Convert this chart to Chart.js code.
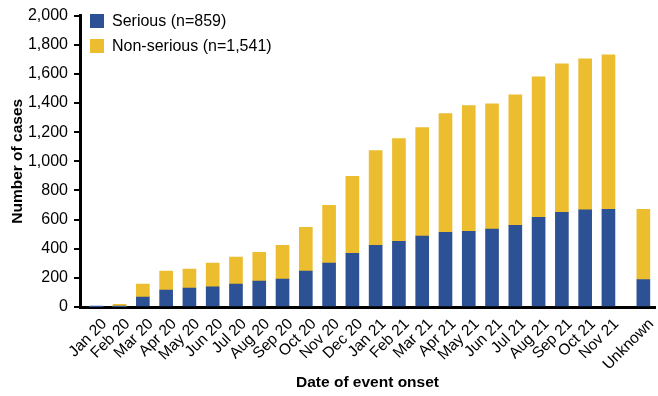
<!DOCTYPE html>
<html>
<head>
<meta charset="utf-8">
<script src="https://cdn.jsdelivr.net/npm/chart.js@4/dist/chart.umd.min.js"></script>
<style>
  html, body { margin: 0; padding: 0; background: #fff; }
  #wrap { width: 658px; height: 396px; }
</style>
</head>
<body>
<div id="wrap"><canvas id="chart" width="658" height="396"></canvas></div>
<script>
// Cumulative case counts by month of event onset
const months = ['Jan 20', 'Feb 20', 'Mar 20', 'Apr 20', 'May 20', 'Jun 20', 'Jul 20', 'Aug 20',
  'Sep 20', 'Oct 20', 'Nov 20', 'Dec 20', 'Jan 21', 'Feb 21', 'Mar 21', 'Apr 21', 'May 21',
  'Jun 21', 'Jul 21', 'Aug 21', 'Sep 21', 'Oct 21', 'Nov 21', 'Unknown'];
const serious = [2, 3, 68, 116, 130, 139, 157, 178, 192, 246, 301, 369, 424, 451, 486, 513,
  520, 534, 561, 616, 650, 667, 670, 189];
const nonSerious = [3, 15, 89, 130, 130, 162, 185, 198, 232, 301, 397, 527, 650, 705, 745, 814,
  862, 861, 896, 964, 1019, 1036, 1061, 481];
const seriesNames = ['Serious (n=859)', 'Non-serious (n=1,541)'];
const yTicks = { min: 0, max: 2000, step: 200 };

const BLUE = '#2d5195';
const GOLD = '#ebbd2f';
const FONT = "'Liberation Sans', Arial, sans-serif";

// Category axis that leaves extra room before the first month and
// a wider gap before the trailing "Unknown" category.
class GappedCategoryScale extends Chart.CategoryScale {
  static id = 'gappedCategory';
  static defaults = Chart.CategoryScale.defaults;
  buildTicks() {
    const ticks = super.buildTicks();
    const lead = this.options.leadSpace || 0;
    const gap = this.options.gapSize || 0;
    this._startValue -= lead;
    this._valueRange += lead + gap;
    return ticks;
  }
  getPixelForValue(value) {
    if (typeof value !== 'number') value = this.parse(value);
    if (value === null) return NaN;
    const gi = this.options.gapIndex;
    const v = (gi != null && value >= gi) ? value + (this.options.gapSize || 0) : value;
    return this.getPixelForDecimal((v - this._startValue) / this._valueRange);
  }
}
Chart.register(GappedCategoryScale);

// Legend drawn inside the plot area, one entry per row
const plotLegend = {
  id: 'plotLegend',
  afterDraw(chart, args, opts) {
    const ctx = chart.ctx;
    ctx.save();
    ctx.font = opts.fontSize + 'px ' + FONT;
    ctx.textBaseline = 'middle';
    ctx.textAlign = 'left';
    chart.data.datasets.forEach((ds, i) => {
      const y = opts.top + i * opts.rowGap;
      ctx.fillStyle = ds.backgroundColor;
      ctx.fillRect(opts.left, y, opts.box, opts.box);
      ctx.fillStyle = '#000';
      ctx.fillText(ds.label, opts.left + opts.box + opts.textGap, y + opts.box / 2 + 0.5);
    });
    ctx.restore();
  }
};

new Chart(document.getElementById('chart'), {
  type: 'bar',
  data: {
    labels: months,
    datasets: [
      { label: seriesNames[0], data: serious, backgroundColor: BLUE, barThickness: 13 },
      { label: seriesNames[1], data: nonSerious, backgroundColor: GOLD, barThickness: 13 }
    ]
  },
  options: {
    responsive: false,
    animation: false,
    devicePixelRatio: 1,
    layout: { padding: { top: 14.7, right: 3, bottom: 0, left: 0 } },
    plugins: {
      legend: { display: false },
      tooltip: { enabled: false },
      plotLegend: { left: 90, top: 14, box: 14, rowGap: 25, textGap: 8, fontSize: 16 }
    },
    scales: {
      x: {
        type: 'gappedCategory',
        stacked: true,
        offset: true,
        leadSpace: 0.2,
        gapIndex: months.length - 1,
        gapSize: 0.5,
        grid: { display: false },
        border: { display: true, color: '#000', width: 3 },
        ticks: {
          autoSkip: false,
          minRotation: 45,
          maxRotation: 45,
          padding: 0,
          labelOffset: 8,
          color: '#000',
          font: { family: FONT, size: 15.5 }
        },
        title: {
          display: true,
          text: 'Date of event onset',
          color: '#000',
          padding: { top: 0, bottom: 4 },
          font: { family: FONT, size: 15.5, weight: 'bold', lineHeight: 1.2 }
        },
        afterFit(scale) { scale.height = 89; }
      },
      y: {
        stacked: true,
        min: yTicks.min,
        max: yTicks.max,
        grid: {
          display: true,
          drawOnChartArea: false,
          drawTicks: true,
          tickLength: 6,
          color: '#000',
          lineWidth: 2
        },
        border: { display: true, color: '#000', width: 3 },
        ticks: {
          stepSize: yTicks.step,
          padding: 6,
          color: '#000',
          font: { family: FONT, size: 16 }
        },
        title: {
          display: true,
          text: 'Number of cases',
          color: '#000',
          padding: { top: 8, bottom: 0 },
          font: { family: FONT, size: 15.5, weight: 'bold', lineHeight: 1.2 }
        },
        afterFit(scale) { scale.width = 80; }
      }
    }
  },
  plugins: [plotLegend]
});
</script>
</body>
</html>
